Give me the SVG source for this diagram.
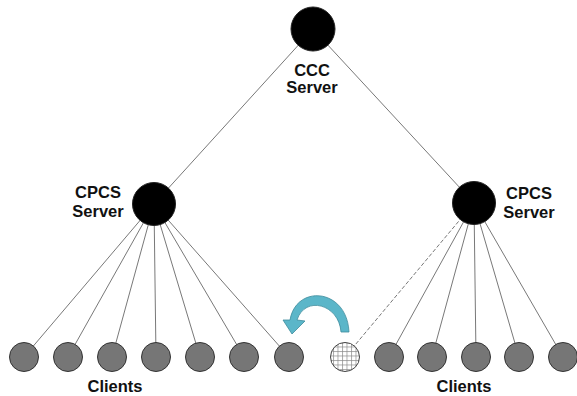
<svg xmlns="http://www.w3.org/2000/svg" width="577" height="396" viewBox="0 0 577 396">
<style>
.lbl{font-family:"Liberation Sans",Arial,sans-serif;font-weight:bold;font-size:16.5px;fill:#111;text-anchor:middle}
.srv{fill:#000;stroke:#222;stroke-width:1}
.cli{fill:#767676;stroke:#333;stroke-width:1}
.ln{stroke:#555;stroke-width:0.8;fill:none}
</style>
<defs>
<pattern id="grid" width="4.5" height="4.5" patternUnits="userSpaceOnUse">
<rect width="4.5" height="4.5" fill="#fff"/>
<path d="M0,0.5H4.5M0.5,0V4.5" stroke="#888" stroke-width="0.7"/>
</pattern>
</defs>
<rect width="577" height="396" fill="#fff"/>
<g id="connectors">
<line class="ln" x1="313" y1="29" x2="154" y2="204"/>
<line class="ln" x1="313" y1="29" x2="474" y2="203"/>
<line class="ln" x1="154" y1="204" x2="24" y2="357"/>
<line class="ln" x1="154" y1="204" x2="68" y2="357"/>
<line class="ln" x1="154" y1="204" x2="112" y2="357"/>
<line class="ln" x1="154" y1="204" x2="156" y2="357"/>
<line class="ln" x1="154" y1="204" x2="200" y2="357"/>
<line class="ln" x1="154" y1="204" x2="244" y2="357"/>
<line class="ln" x1="154" y1="204" x2="289" y2="357"/>
<line class="ln" x1="474" y1="203" x2="345" y2="357" stroke-dasharray="4,2"/>
<line class="ln" x1="474" y1="203" x2="389" y2="357"/>
<line class="ln" x1="474" y1="203" x2="432" y2="357"/>
<line class="ln" x1="474" y1="203" x2="476" y2="357"/>
<line class="ln" x1="474" y1="203" x2="519" y2="357"/>
<line class="ln" x1="474" y1="203" x2="563" y2="357"/>
</g>
<g id="ccc-server">
<circle class="srv" cx="313" cy="29" r="22"/>
<text class="lbl" x="312" y="76">CCC</text>
<text class="lbl" x="312" y="93">Server</text>
</g>
<g id="cpcs-left">
<circle class="srv" cx="154" cy="204" r="21.5"/>
<text class="lbl" x="98" y="198">CPCS</text>
<text class="lbl" x="98" y="217">Server</text>
</g>
<g id="cpcs-right">
<circle class="srv" cx="474" cy="203" r="21.5"/>
<text class="lbl" x="529" y="199">CPCS</text>
<text class="lbl" x="529" y="218">Server</text>
</g>
<g id="clients-left">
<circle class="cli" cx="24" cy="357" r="14.5"/>
<circle class="cli" cx="68" cy="357" r="14.5"/>
<circle class="cli" cx="112" cy="357" r="14.5"/>
<circle class="cli" cx="156" cy="357" r="14.5"/>
<circle class="cli" cx="200" cy="357" r="14.5"/>
<circle class="cli" cx="244" cy="357" r="14.5"/>
<circle class="cli" cx="289" cy="357" r="14.5"/>
<text class="lbl" x="115" y="392">Clients</text>
</g>
<g id="migrating-client">
<circle cx="345" cy="357" r="14.5" fill="url(#grid)" stroke="#444" stroke-width="1"/>
</g>
<g id="clients-right">
<circle class="cli" cx="389" cy="357" r="14.5"/>
<circle class="cli" cx="432" cy="357" r="14.5"/>
<circle class="cli" cx="476" cy="357" r="14.5"/>
<circle class="cli" cx="519" cy="357" r="14.5"/>
<circle class="cli" cx="563" cy="357" r="14.5"/>
<text class="lbl" x="464" y="392">Clients</text>
</g>
<g id="migration-arrow">
<path d="M341,332 C339,304 305,295 297,320 L305,321 L292,334 L283,320 L290,320 C296,284 347,288 349,332 Z" fill="#5bb6c9" stroke="#3d8c9c" stroke-width="0.8"/>
</g>
</svg>
